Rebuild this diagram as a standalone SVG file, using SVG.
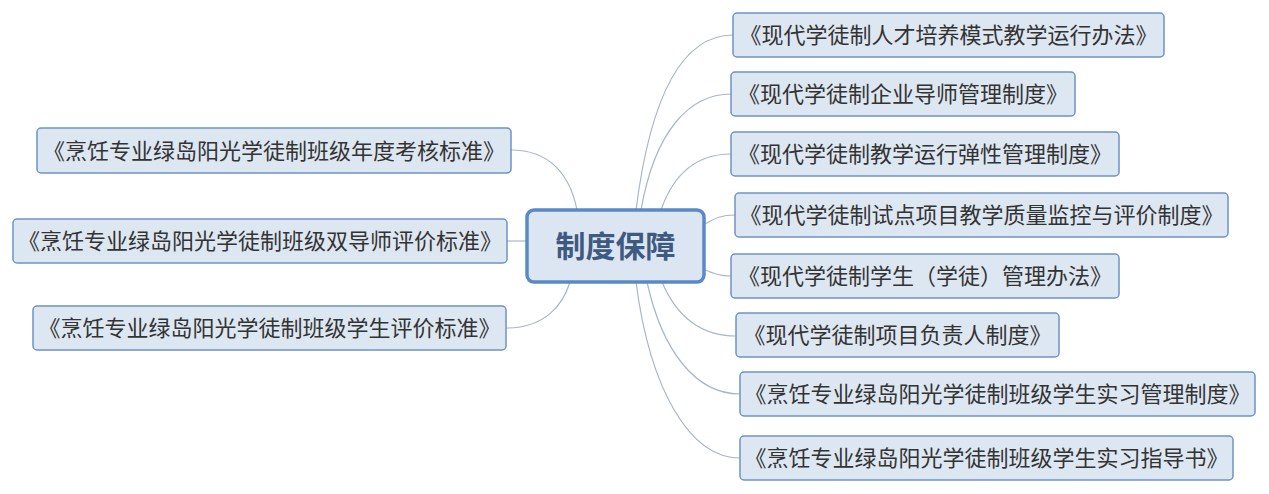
<svg xmlns="http://www.w3.org/2000/svg" width="1269" height="494" viewBox="0 0 1269 494">
<style>
.box{fill:#dde7f2;stroke:#6d93c4;stroke-width:1.5}
.t{font-family:"Microsoft YaHei","Noto Sans CJK SC",sans-serif;font-size:22px;fill:#333333;text-anchor:middle}
.c{fill:none;stroke:#a7b6c8;stroke-width:1.2}
.main{fill:#dce6f2;stroke:#5a8ac6;stroke-width:3.5}
.mt{font-family:"Microsoft YaHei","Noto Sans CJK SC",sans-serif;font-size:30px;font-weight:bold;fill:#3e5a80;text-anchor:middle}
</style>
<rect width="1269" height="494" fill="#ffffff"/>
<g id="connectors">
<path class="c" d="M511,150 C550,150 570,175 577,210"/>
<path class="c" d="M507,241 L527,241"/>
<path class="c" d="M506,328 C545,328 563,305 570,282"/>
<path class="c" d="M636,210 C650,100 680,35 733,35"/>
<path class="c" d="M641,210 C655,130 690,94 731,94"/>
<path class="c" d="M661,210 C675,170 700,154 731,154"/>
<path class="c" d="M705,224 C715,218 722,215 735,215"/>
<path class="c" d="M705,270 C715,274 720,276 731,276"/>
<path class="c" d="M662,282 C676,315 700,336 736,336"/>
<path class="c" d="M647,282 C662,350 695,394 740,394"/>
<path class="c" d="M636,282 C650,390 690,458 740,458"/>
</g>
<g id="center">
<rect class="main" x="527" y="210" width="177" height="72" rx="7"/>
<text class="mt" x="615.5" y="257">制度保障</text>
</g>
<g id="l1">
<rect class="box" x="37" y="128" width="474" height="45" rx="4"/>
<text class="t" x="274" y="158.5">《烹饪专业绿岛阳光学徒制班级年度考核标准》</text>
</g>
<g id="l2">
<rect class="box" x="13" y="219" width="494" height="44" rx="4"/>
<text class="t" x="260" y="249">《烹饪专业绿岛阳光学徒制班级双导师评价标准》</text>
</g>
<g id="l3">
<rect class="box" x="33" y="306" width="473" height="44" rx="4"/>
<text class="t" x="269.5" y="336">《烹饪专业绿岛阳光学徒制班级学生评价标准》</text>
</g>
<g id="r1">
<rect class="box" x="733" y="13" width="431" height="44" rx="4"/>
<text class="t" x="948.5" y="43">《现代学徒制人才培养模式教学运行办法》</text>
</g>
<g id="r2">
<rect class="box" x="731" y="72" width="344" height="44" rx="4"/>
<text class="t" x="903" y="102">《现代学徒制企业导师管理制度》</text>
</g>
<g id="r3">
<rect class="box" x="731" y="132" width="388" height="44" rx="4"/>
<text class="t" x="925" y="162">《现代学徒制教学运行弹性管理制度》</text>
</g>
<g id="r4">
<rect class="box" x="735" y="193" width="493" height="44" rx="4"/>
<text class="t" x="981.5" y="223">《现代学徒制试点项目教学质量监控与评价制度》</text>
</g>
<g id="r5">
<rect class="box" x="731" y="254" width="388" height="44" rx="4"/>
<text class="t" x="925" y="284">《现代学徒制学生（学徒）管理办法》</text>
</g>
<g id="r6">
<rect class="box" x="736" y="313" width="323" height="44" rx="4"/>
<text class="t" x="897.5" y="343">《现代学徒制项目负责人制度》</text>
</g>
<g id="r7">
<rect class="box" x="740" y="372" width="515" height="44" rx="4"/>
<text class="t" x="997.5" y="402">《烹饪专业绿岛阳光学徒制班级学生实习管理制度》</text>
</g>
<g id="r8">
<rect class="box" x="740" y="436" width="493" height="44" rx="4"/>
<text class="t" x="986.5" y="466">《烹饪专业绿岛阳光学徒制班级学生实习指导书》</text>
</g>
</svg>
